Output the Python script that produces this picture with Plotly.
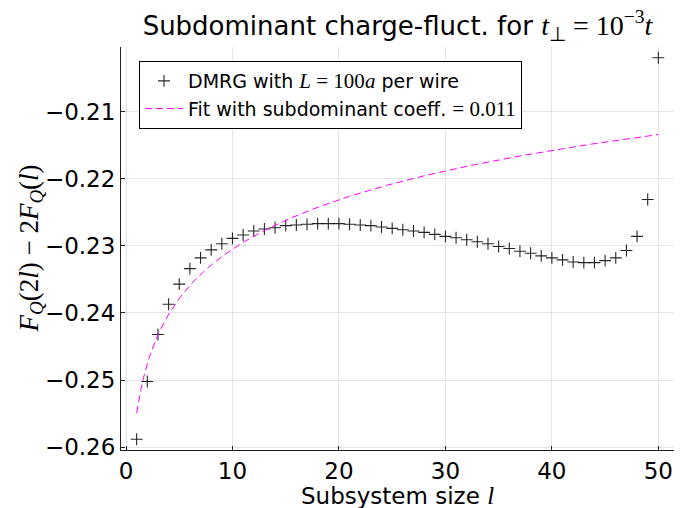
import numpy as np
import plotly.graph_objects as go

# DMRG data: subsystem size l and F_Q(2l) - 2 F_Q(l)
subsystem_size = list(range(1, 51))
charge_fluct_diff = [
    -0.2588, -0.2502, -0.2432, -0.2387, -0.2357, -0.2334, -0.2318, -0.2306, -0.2297, -0.2289,
    -0.2284, -0.2278, -0.2275, -0.2273, -0.2270, -0.2269, -0.2268, -0.2267, -0.2267, -0.2267,
    -0.2268, -0.2269, -0.2270, -0.2272, -0.2274, -0.2276, -0.2278, -0.2280, -0.2283, -0.2286,
    -0.2288, -0.2291, -0.2294, -0.2297, -0.2301, -0.2304, -0.2308, -0.2311, -0.2315, -0.2318,
    -0.2321, -0.2324, -0.2325, -0.2325, -0.2322, -0.2318, -0.2307, -0.2286, -0.2231, -0.2020,
]

# logarithmic fit: a + c * ln(l)
fit_intercept = -0.2549
fit_coeff = 0.0106

x_ticks = [0, 10, 20, 30, 40, 50]
y_ticks = [-0.26, -0.25, -0.24, -0.23, -0.22, -0.21]


def math(s, size=None):
    style = "font-family:Liberation Serif"
    if size:
        style += f";font-size:{size}px"
    return f'<span style="{style}">{s}</span>'


fit_l = np.linspace(1, 50, 300)
fit_vals = fit_intercept + fit_coeff * np.log(fit_l)

fig = go.Figure()
fig.add_trace(go.Scatter(
    x=subsystem_size, y=charge_fluct_diff, mode="markers",
    name="DMRG with " + math("<i>L</i> = 100<i>a</i>", 21) + " per wire",
    marker=dict(symbol="cross-thin", size=8.5, color="#000000",
                line=dict(color="rgba(0,0,0,0.85)", width=1.1)),
))
fig.add_trace(go.Scatter(
    x=fit_l, y=fit_vals, mode="lines",
    name="Fit with subdominant coeff. " + math(f"= {fit_coeff:.3f}", 21),
    line=dict(color="#ff00ff", width=1, dash="7px,4px"),
))

axis_common = dict(
    showgrid=True, gridcolor="rgba(0,0,0,0.1)", gridwidth=1,
    showline=True, linecolor="#222222", linewidth=1,
    ticks="inside", ticklen=4, tickcolor="#222222", tickwidth=1,
    zeroline=False, mirror=False,
    tickfont=dict(family="DejaVu Sans", size=23, color="#000000"),
)

fig.update_layout(
    width=686, height=508,
    margin=dict(l=121, r=12, t=47, b=58),
    paper_bgcolor="white", plot_bgcolor="white",
    font=dict(family="DejaVu Sans", color="#000000"),
    title=dict(
        text="Subdominant charge-fluct. for "
             + math("<i>t</i><sub>⊥</sub> = 10<sup>−3</sup><i>t</i>", 28),
        x=0.5, xref="paper", xanchor="center",
        y=1 - 26 / 508, yref="container", yanchor="middle",
        font=dict(family="DejaVu Sans", size=26, color="#000000"),
    ),
    xaxis=dict(axis_common, range=[-0.47, 51.47], tickvals=x_ticks,
               ticktext=[str(v) for v in x_ticks]),
    yaxis=dict(axis_common, range=[-0.2604, -0.2004], tickvals=y_ticks,
               tickformat=".2f"),
    showlegend=True,
    legend=dict(
        x=(139 - 121) / 553, y=1 - (61 - 47) / 403, xanchor="left", yanchor="top",
        bgcolor="white", bordercolor="#000000", borderwidth=1,
        font=dict(family="DejaVu Sans", size=19, color="#000000"),
        tracegroupgap=0, itemwidth=38,
    ),
    annotations=[
        dict(text="Subsystem size " + math("<i>l</i>", 25),
             x=0.5, y=-(495 - 450) / 403, xref="paper", yref="paper",
             xanchor="center", yanchor="middle", showarrow=False,
             font=dict(family="DejaVu Sans", size=23, color="#000000")),
        dict(text=math("<i>F</i><sub><i>Q</i></sub>(2<i>l</i>) − 2<i>F</i><sub><i>Q</i></sub>(<i>l</i>)"),
             x=(30 - 121) / 553, y=0.5, xref="paper", yref="paper",
             xanchor="center", yanchor="middle", showarrow=False, textangle=-90,
             font=dict(family="Liberation Serif", size=27, color="#000000")),
    ],
)

fig.write_html("out.html")
